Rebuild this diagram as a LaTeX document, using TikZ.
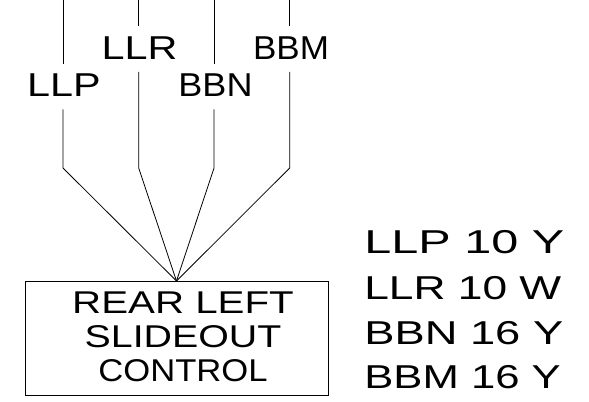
\documentclass[tikz,border=0pt]{standalone}
\usepackage{fontspec}
\setmainfont{Liberation Sans}
\begin{document}
\begin{tikzpicture}[x=0.75pt,y=-0.75pt,
  wire/.style={draw=black,line width=0.6pt},
  wirelabel/.style={inner sep=0pt,minimum height=33.75pt,transform shape,font=\fontsize{24.8}{26}\selectfont,text height=15.4pt,text depth=0pt},
  listlabel/.style={inner sep=0pt,anchor=base west,transform shape,font=\fontsize{24.8}{26}\selectfont},
  boxtext/.style={inner sep=0pt,align=center,font=\fontsize{23.6}{25.5}\selectfont}]
\useasboundingbox (0,0) rectangle (589,401);
\node[draw=black,line width=0.6pt,minimum width=227.25pt,minimum height=85.5pt,inner sep=0pt] (box) at (176.5,338) {};
\coordinate (apex) at (176.5,281);
\node[boxtext] (boxlabel) at (183,337) {\scalebox{1.28}[1]{REAR LEFT}\\\scalebox{1.25}[1]{SLIDEOUT}\\\scalebox{1.10}[1]{CONTROL}};
\node[wirelabel,xscale=1.25] (llp) at (64,86.5) {LLP};
\node[wirelabel,xscale=1.25] (llr) at (139.5,49) {LLR};
\node[wirelabel,xscale=1.09] (bbn) at (215.5,86.5) {BBN};
\node[wirelabel,xscale=1.06] (bbm) at (291,49) {BBM};
\coordinate (t1) at (63,0);
\coordinate (t2) at (138.7,0);
\coordinate (t3) at (214,0);
\coordinate (t4) at (289.7,0);
\coordinate (b1) at (63,168);
\coordinate (b2) at (138.7,168);
\coordinate (b3) at (214,168);
\coordinate (b4) at (289.7,168);
\draw[wire] (t1) -- (t1 |- llp.north);
\draw[wire] (t2) -- (t2 |- llr.north);
\draw[wire] (t3) -- (t3 |- bbn.north);
\draw[wire] (t4) -- (t4 |- bbm.north);
\draw[wire] (b1 |- llp.south) -- (b1) -- (apex);
\draw[wire] (b2 |- llr.south) -- (b2) -- (apex);
\draw[wire] (b3 |- bbn.south) -- (b3) -- (apex);
\draw[wire] (b4 |- bbm.south) -- (b4) -- (apex);
\node[listlabel,xscale=1.47] (l1) at (364,253) {LLP 10 Y};
\node[listlabel,xscale=1.34] (l2) at (364,299) {LLR 10 W};
\node[listlabel,xscale=1.37] (l3) at (364,344) {BBN 16 Y};
\node[listlabel,xscale=1.32] (l4) at (364,388.5) {BBM 16 Y};
\end{tikzpicture}
\end{document}
